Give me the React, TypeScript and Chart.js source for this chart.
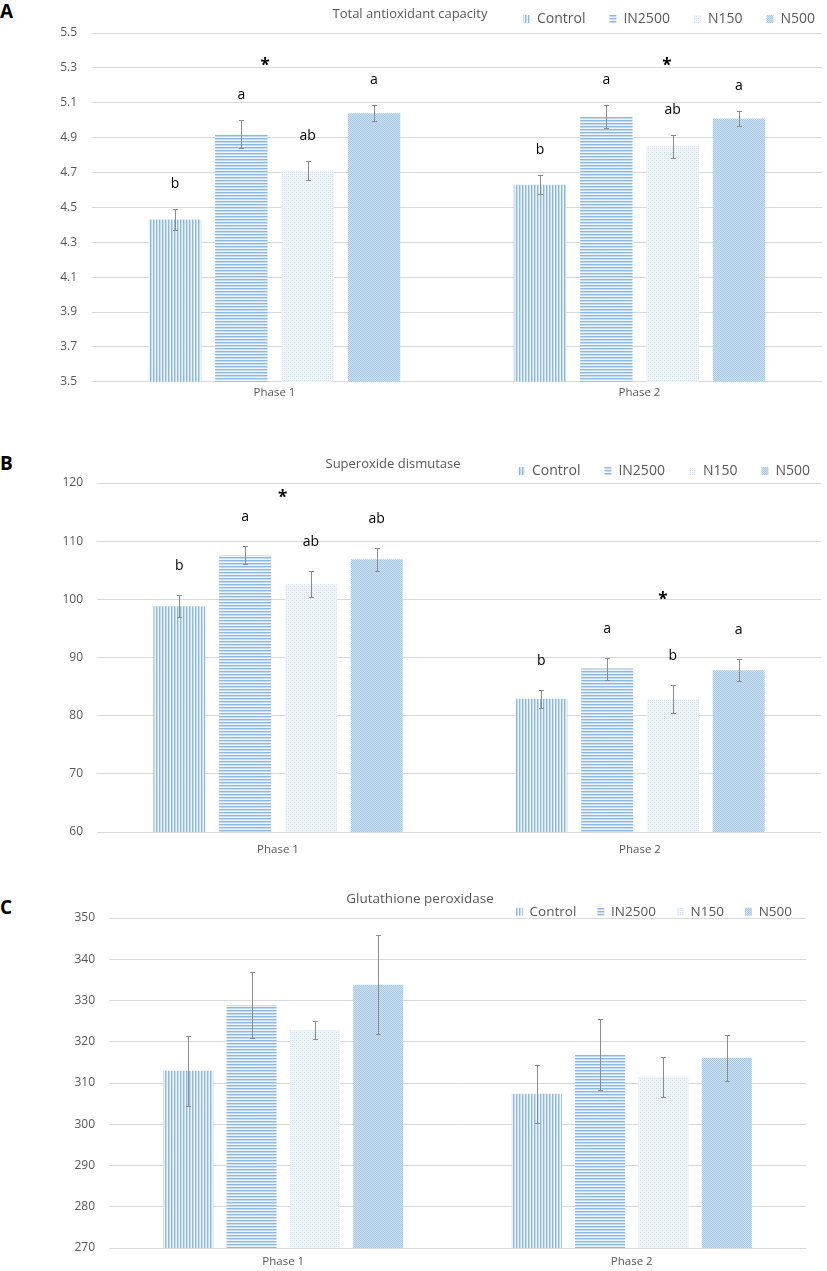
import React, { useEffect, useRef } from 'react';
import { Chart, registerables } from 'chart.js';

Chart.register(...registerables);

const FONT = '"Open Sans", sans-serif';

const CATEGORIES = ['Phase 1', 'Phase 2'];
const SERIES_NAMES = ['Control', 'IN2500', 'N150', 'N500'];

// ---- Panel A: Total antioxidant capacity ----
const TAC_TICKS = [3.5, 3.7, 3.9, 4.1, 4.3, 4.5, 4.7, 4.9, 5.1, 5.3, 5.5];
const TAC_CONTROL = [4.43, 4.63];
const TAC_IN2500 = [4.92, 5.02];
const TAC_N150 = [4.71, 4.85];
const TAC_N500 = [5.04, 5.01];
const TAC_CONTROL_ERR = [0.06, 0.055];
const TAC_IN2500_ERR = [0.08, 0.065];
const TAC_N150_ERR = [0.055, 0.065];
const TAC_N500_ERR = [0.045, 0.045];
const TAC_CONTROL_SIG = ['b', 'b'];
const TAC_IN2500_SIG = ['a', 'a'];
const TAC_N150_SIG = ['ab', 'ab'];
const TAC_N500_SIG = ['a', 'a'];
const TAC_STAR_VALUES = [5.34, 5.34];

// ---- Panel B: Superoxide dismutase ----
const SOD_TICKS = [60, 70, 80, 90, 100, 110, 120];
const SOD_CONTROL = [98.8, 82.9];
const SOD_IN2500 = [107.6, 88.1];
const SOD_N150 = [102.6, 82.8];
const SOD_N500 = [106.9, 87.8];
const SOD_CONTROL_ERR = [1.9, 1.5];
const SOD_IN2500_ERR = [1.6, 1.9];
const SOD_N150_ERR = [2.2, 2.4];
const SOD_N500_ERR = [2.0, 1.9];
const SOD_CONTROL_SIG = ['b', 'b'];
const SOD_IN2500_SIG = ['a', 'a'];
const SOD_N150_SIG = ['ab', 'b'];
const SOD_N500_SIG = ['ab', 'a'];
const SOD_STAR_VALUES = [118.3, 100.7];

// ---- Panel C: Glutathione peroxidase ----
const GPX_TICKS = [270, 280, 290, 300, 310, 320, 330, 340, 350];
const GPX_CONTROL = [313.0, 307.4];
const GPX_IN2500 = [328.9, 316.9];
const GPX_N150 = [322.8, 311.5];
const GPX_N500 = [333.8, 316.1];
const GPX_CONTROL_ERR = [8.5, 7.0];
const GPX_IN2500_ERR = [8.1, 8.6];
const GPX_N150_ERR = [2.2, 4.8];
const GPX_N500_ERR = [12.0, 5.6];

type PanelCfg = {
  letter: string;
  letterTop: number;
  title: string;
  titleX: number;
  titleY: number;
  titleSize: number;
  top: number;
  width: number;
  height: number;
  padRight: number;
  leftAxis: number;
  rightAxis: number;
  yPad: number;
  xPad: number;
  xAxisH: number;
  legendMaxH: number;
  legendSize: number;
  legendPad: number;
  ticks: number[];
  decimals: number;
  values: number[][];
  errors: number[][];
  sig: string[][] | null;
  sigOffset: number;
  stars: { value: number; dx: number }[];
};

const PANELS: PanelCfg[] = [
  {
    letter: 'A', letterTop: 0,
    title: 'Total antioxidant capacity', titleX: 410, titleY: 14, titleSize: 13,
    top: -12, width: 845, height: 416, padRight: 6, leftAxis: 92, rightAxis: 17,
    yPad: 15, xPad: 4, xAxisH: 20, legendMaxH: 45, legendSize: 14, legendPad: 24,
    ticks: TAC_TICKS, decimals: 1,
    values: [TAC_CONTROL, TAC_IN2500, TAC_N150, TAC_N500],
    errors: [TAC_CONTROL_ERR, TAC_IN2500_ERR, TAC_N150_ERR, TAC_N500_ERR],
    sig: [TAC_CONTROL_SIG, TAC_IN2500_SIG, TAC_N150_SIG, TAC_N500_SIG], sigOffset: 25,
    stars: [{ value: TAC_STAR_VALUES[0], dx: -0.026 }, { value: TAC_STAR_VALUES[1], dx: 0.075 }],
  },
  {
    letter: 'B', letterTop: 452,
    title: 'Superoxide dismutase', titleX: 393, titleY: 464, titleSize: 13,
    top: 440, width: 845, height: 418, padRight: 11, leftAxis: 97, rightAxis: 13,
    yPad: 14, xPad: 11, xAxisH: 26, legendMaxH: 43, legendSize: 14, legendPad: 24,
    ticks: SOD_TICKS, decimals: 0,
    values: [SOD_CONTROL, SOD_IN2500, SOD_N150, SOD_N500],
    errors: [SOD_CONTROL_ERR, SOD_IN2500_ERR, SOD_N150_ERR, SOD_N500_ERR],
    sig: [SOD_CONTROL_SIG, SOD_IN2500_SIG, SOD_N150_SIG, SOD_N500_SIG], sigOffset: 29,
    stars: [{ value: SOD_STAR_VALUES[0], dx: 0.013 }, { value: SOD_STAR_VALUES[1], dx: 0.063 }],
  },
  {
    letter: 'C', letterTop: 896,
    title: 'Glutathione peroxidase', titleX: 420, titleY: 899, titleSize: 13.5,
    top: 884, width: 827, height: 386, padRight: 14, leftAxis: 109, rightAxis: 7,
    yPad: 14, xPad: 7, xAxisH: 22, legendMaxH: 34, legendSize: 13.5, legendPad: 21,
    ticks: GPX_TICKS, decimals: 0,
    values: [GPX_CONTROL, GPX_IN2500, GPX_N150, GPX_N500],
    errors: [GPX_CONTROL_ERR, GPX_IN2500_ERR, GPX_N150_ERR, GPX_N500_ERR],
    sig: null, sigOffset: 0,
    stars: [],
  },
];

function makeTile(w: number, h: number, paint: (g: CanvasRenderingContext2D) => void) {
  const c = document.createElement('canvas');
  c.width = w;
  c.height = h;
  const g = c.getContext('2d')!;
  paint(g);
  return g.createPattern(c, 'repeat')!;
}

function makePatterns() {
  const control = makeTile(3, 1, (g) => {
    g.fillStyle = '#EDF4FB'; g.fillRect(0, 0, 3, 1);
    g.fillStyle = '#8DB8E2'; g.fillRect(0, 0, 1, 1);
    g.fillStyle = '#C4DBF1'; g.fillRect(1, 0, 1, 1);
  });
  const in2500 = makeTile(1, 3, (g) => {
    g.fillStyle = '#EDF4FB'; g.fillRect(0, 0, 1, 3);
    g.fillStyle = '#8DB8E2'; g.fillRect(0, 0, 1, 1);
    g.fillStyle = '#C4DBF1'; g.fillRect(0, 1, 1, 1);
  });
  const n150 = makeTile(4, 4, (g) => {
    g.fillStyle = '#F0F6FC'; g.fillRect(0, 0, 4, 4);
    g.fillStyle = '#C9DDF1'; g.fillRect(0, 0, 1, 1); g.fillRect(2, 2, 1, 1);
    g.fillStyle = '#DAE8F6'; g.fillRect(2, 0, 1, 1); g.fillRect(0, 2, 1, 1);
  });
  const n500 = makeTile(2, 2, (g) => {
    g.fillStyle = '#D0E2F4'; g.fillRect(0, 0, 2, 2);
    g.fillStyle = '#A2C6E8'; g.fillRect(0, 0, 1, 1); g.fillRect(1, 1, 1, 1);
  });
  return [control, in2500, n150, n500];
}

const annotatePlugin = {
  id: 'annotate',
  afterDatasetsDraw(chart: any, _args: any, opts: any) {
    const { ctx } = chart;
    const ys = chart.scales.y;
    const xs = chart.scales.x;
    ctx.save();
    chart.data.datasets.forEach((ds: any, di: number) => {
      const meta = chart.getDatasetMeta(di);
      meta.data.forEach((bar: any, i: number) => {
        const v = ds.data[i];
        const e = ds.errors[i];
        const yt = Math.round(ys.getPixelForValue(v + e)) + 0.5;
        const yb = Math.round(ys.getPixelForValue(v - e)) + 0.5;
        const x = Math.round(bar.x) + 0.5;
        ctx.strokeStyle = '#8C8C8C';
        ctx.lineWidth = 1;
        ctx.beginPath();
        ctx.moveTo(x, yt); ctx.lineTo(x, yb);
        ctx.moveTo(x - 2.5, yt); ctx.lineTo(x + 2.5, yt);
        ctx.moveTo(x - 2.5, yb); ctx.lineTo(x + 2.5, yb);
        ctx.stroke();
        if (ds.sig) {
          ctx.fillStyle = '#000000';
          ctx.font = `14px ${FONT}`;
          ctx.textAlign = 'center';
          ctx.textBaseline = 'middle';
          ctx.fillText(ds.sig[i], bar.x, yt - opts.sigOffset);
        }
      });
    });
    const catW = xs.getPixelForValue(1) - xs.getPixelForValue(0);
    (opts.stars || []).forEach((s: any, ci: number) => {
      ctx.fillStyle = '#000000';
      ctx.font = `bold 17px ${FONT}`;
      ctx.textAlign = 'center';
      ctx.textBaseline = 'alphabetic';
      ctx.fillText('*', xs.getPixelForValue(ci) + s.dx * catW, ys.getPixelForValue(s.value) + 10);
    });
    ctx.restore();
  },
};

const titlePlugin = {
  id: 'panelTitle',
  afterDraw(chart: any, _args: any, opts: any) {
    const { ctx } = chart;
    ctx.save();
    ctx.fillStyle = '#595959';
    ctx.font = `${opts.size}px ${FONT}`;
    ctx.textAlign = 'center';
    ctx.textBaseline = 'middle';
    ctx.fillText(opts.text, opts.x, opts.y);
    ctx.restore();
  },
};

function Panel({ cfg }: { cfg: PanelCfg }) {
  const ref = useRef<HTMLCanvasElement>(null);
  useEffect(() => {
    const canvas = ref.current!;
    const pats = makePatterns();
    const datasets: any[] = cfg.values.map((vals, i) => ({
      label: SERIES_NAMES[i],
      data: vals,
      errors: cfg.errors[i],
      sig: cfg.sig ? cfg.sig[i] : null,
      backgroundColor: pats[i],
      borderWidth: 0,
      categoryPercentage: 0.727,
      barPercentage: 0.79,
    }));
    const chart = new Chart(canvas, {
      type: 'bar',
      data: { labels: CATEGORIES, datasets },
      options: {
        responsive: false,
        animation: false,
        devicePixelRatio: 1,
        layout: { padding: { left: 0, right: cfg.padRight, top: 0, bottom: 0 } },
        plugins: {
          legend: {
            display: true,
            position: 'top',
            align: 'end',
            maxHeight: cfg.legendMaxH,
            labels: {
              boxWidth: 7,
              boxHeight: 8,
              padding: cfg.legendPad,
              color: '#595959',
              font: { family: FONT, size: cfg.legendSize },
            },
          },
          title: { display: false },
          tooltip: { enabled: false },
          annotate: { sigOffset: cfg.sigOffset, stars: cfg.stars },
          panelTitle: { text: cfg.title, x: cfg.titleX, y: cfg.titleY - cfg.top, size: cfg.titleSize },
        } as any,
        scales: {
          x: {
            grid: { display: false, drawTicks: false },
            border: { display: false },
            ticks: { color: '#595959', font: { family: FONT, size: 11.5 }, padding: cfg.xPad },
            afterFit: (s: any) => { s.height = cfg.xAxisH; },
          },
          y: {
            min: cfg.ticks[0],
            max: cfg.ticks[cfg.ticks.length - 1],
            grid: { color: '#D9D9D9', lineWidth: 1, drawTicks: false },
            border: { display: false },
            ticks: {
              color: '#595959',
              font: { family: FONT, size: 12 },
              padding: cfg.yPad,
              callback: (v: any) => Number(v).toFixed(cfg.decimals),
            },
            afterBuildTicks: (s: any) => { s.ticks = cfg.ticks.map((v) => ({ value: v })); },
            afterFit: (s: any) => { s.width = cfg.leftAxis; },
          },
          yRight: {
            type: 'linear',
            position: 'right',
            display: true,
            grid: { display: false, drawTicks: false },
            border: { display: false },
            ticks: { display: false },
            afterFit: (s: any) => { s.width = cfg.rightAxis; },
          },
        } as any,
      },
      plugins: [annotatePlugin, titlePlugin],
    });
    return () => chart.destroy();
  }, [cfg]);

  return (
    <>
      <div
        style={{
          position: 'absolute', left: 0, top: cfg.letterTop, lineHeight: '22px',
          fontFamily: FONT, fontWeight: 700, fontSize: 19, color: '#000',
        }}
      >
        {cfg.letter}
      </div>
      <canvas
        ref={ref}
        width={cfg.width}
        height={cfg.height}
        style={{ position: 'absolute', left: 0, top: cfg.top, width: cfg.width, height: cfg.height }}
      />
    </>
  );
}

export default function App() {
  return (
    <div
      style={{
        position: 'absolute', left: 0, top: 0, width: 827, height: 1271,
        overflow: 'hidden', background: '#ffffff',
      }}
    >
      {PANELS.map((p) => (
        <Panel key={p.letter} cfg={p} />
      ))}
    </div>
  );
}
